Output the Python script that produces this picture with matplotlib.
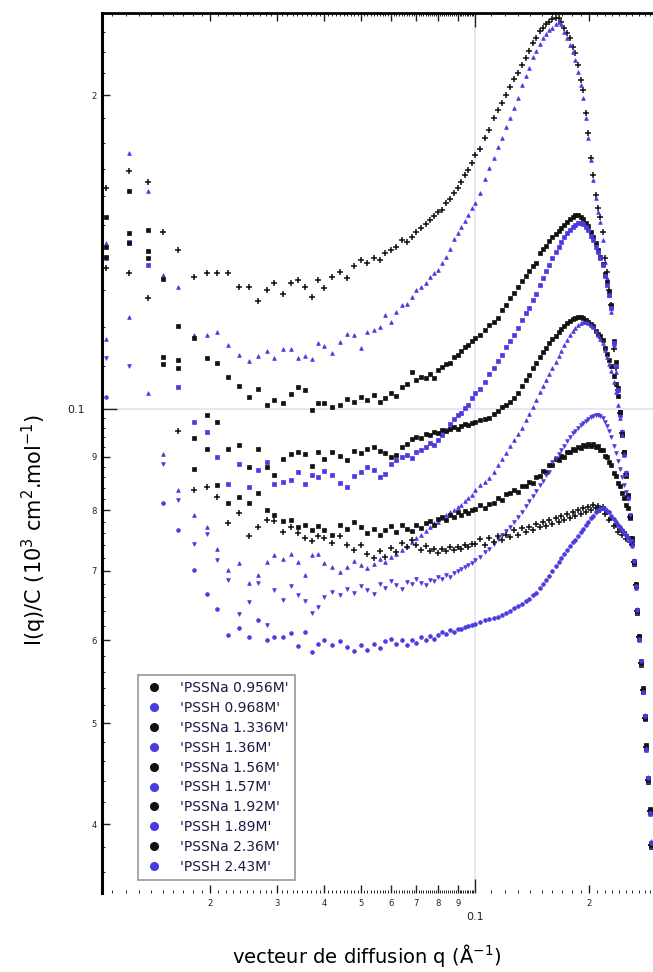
import numpy as np
import matplotlib
matplotlib.use("Agg")
import matplotlib.pyplot as plt
from matplotlib.ticker import FixedLocator, FixedFormatter, NullFormatter
from matplotlib.lines import Line2D

nan = np.nan

# scattering vector q (1/A), shared by all samples
q = [0.0106, 0.0122, 0.0137, 0.0150, 0.0165, 0.0181, 0.0196, 0.0208, 0.0223, 0.0239,
     0.0253, 0.0268, 0.0282, 0.0295, 0.0311, 0.0326, 0.0341, 0.0355, 0.0371, 0.0386,
     0.040, 0.042, 0.044, 0.046, 0.048, 0.050, 0.052, 0.054, 0.056, 0.058,
     0.060, 0.062, 0.064, 0.066, 0.068, 0.070, 0.072, 0.074, 0.076, 0.078,
     0.080, 0.082, 0.084, 0.086, 0.088, 0.090, 0.092, 0.094, 0.096, 0.098,
     0.100, 0.103, 0.106, 0.109, 0.112, 0.115, 0.118, 0.121, 0.124, 0.127,
     0.130, 0.133, 0.136, 0.139, 0.142, 0.145, 0.148, 0.151, 0.154, 0.157,
     0.160, 0.163, 0.166, 0.169, 0.172, 0.175, 0.178, 0.181, 0.184, 0.187,
     0.190, 0.193, 0.196, 0.199, 0.202, 0.205, 0.208, 0.211, 0.214, 0.217,
     0.220, 0.223, 0.226, 0.229, 0.232, 0.235, 0.238, 0.241, 0.244, 0.247,
     0.250, 0.253, 0.256, 0.259, 0.262, 0.265, 0.268, 0.271, 0.274, 0.277,
     0.280, 0.283, 0.286, 0.289, 0.292]

# I(q)/C for each solution
pssna_0956 = [0.163, 0.169, 0.165, 0.148, 0.142, 0.134, 0.135, 0.135, 0.135, 0.131,
              0.131, 0.127, 0.130, 0.132, 0.129, 0.132, 0.133, 0.131, 0.128, 0.133,
              0.1306, 0.1340, 0.1353, 0.1335, 0.1372, 0.1389, 0.1380, 0.1395, 0.1389, 0.1411,
              0.1420, 0.1430, 0.1452, 0.1446, 0.1462, 0.1480, 0.1491, 0.1506, 0.1518, 0.1530,
              0.1544, 0.1552, 0.1575, 0.1590, 0.1610, 0.1628, 0.1652, 0.1675, 0.1695, 0.1720,
              0.1752, 0.1775, 0.1819, 0.1851, 0.1901, 0.1936, 0.1965, 0.2000, 0.2034, 0.2072,
              0.2100, 0.2137, 0.2171, 0.2204, 0.2243, 0.2267, 0.2302, 0.2317, 0.2338, 0.2349,
              0.2366, 0.2371, 0.2371, 0.2349, 0.2317, 0.2292, 0.2267, 0.2223, 0.2195, 0.2137,
              0.2066, 0.2021, 0.1923, 0.1839, 0.1740, 0.1676, 0.1603, 0.1558, 0.1528, 0.1478,
              0.1395, 0.1353, 0.1301, 0.1258, 0.1143, 0.1095, 0.1044, 0.0991, 0.0948, 0.0907,
              0.0866, 0.0825, 0.0788, 0.0750, 0.0713, 0.0678, 0.0640, 0.0604, 0.0571, 0.0538,
              0.0506, 0.0474, 0.0441, 0.0412, 0.0382]
pssh_0968 = [0.1443, 0.1760, 0.1618, 0.1344, 0.1309, 0.1177, 0.1177, 0.1186, 0.1152, 0.1127,
             0.1112, 0.1124, 0.1137, 0.1119, 0.1142, 0.1142, 0.1119, 0.1124, 0.1117, 0.1157,
             0.1149, 0.1132, 0.1160, 0.1181, 0.1177, 0.1144, 0.1186, 0.1191, 0.1200, 0.1230,
             0.1212, 0.1240, 0.1258, 0.1262, 0.1280, 0.1300, 0.1309, 0.1322, 0.1338, 0.1349,
             0.1359, 0.1380, 0.1400, 0.1425, 0.1455, 0.1475, 0.1495, 0.1515, 0.1535, 0.1558,
             0.1575, 0.1610, 0.1661, 0.1702, 0.1740, 0.1782, 0.1819, 0.1863, 0.1901, 0.1944,
             0.1987, 0.2043, 0.2086, 0.2123, 0.2176, 0.2204, 0.2238, 0.2267, 0.2287, 0.2307,
             0.2322, 0.2338, 0.2349, 0.2338, 0.2297, 0.2267, 0.2233, 0.2199, 0.2161, 0.2104,
             0.2043, 0.1987, 0.1901, 0.1819, 0.1732, 0.1657, 0.1593, 0.1544, 0.1511, 0.1452,
             0.1383, 0.1335, 0.1286, 0.1239, 0.1152, 0.1085, 0.1031, 0.0987, 0.0952, 0.0903,
             0.0870, 0.0821, 0.0791, 0.0746, 0.0716, 0.0674, 0.0643, 0.0601, 0.0574, 0.0535,
             0.0509, 0.0471, 0.0444, 0.0409, 0.0385]
pssna_1336 = [0.1528, 0.1618, 0.1485, 0.1332, 0.1201, 0.1169, 0.1120, 0.1107, 0.1073, 0.1052,
              0.1027, 0.1045, 0.1009, 0.1020, 0.1013, 0.1034, 0.1050, 0.1043, 0.0998, 0.1013,
              0.1013, 0.1005, 0.1009, 0.1022, 0.1016, 0.1028, 0.1020, 0.1031, 0.1015, 0.1024,
              0.1036, 0.1030, 0.1050, 0.1058, 0.1085, 0.1066, 0.1074, 0.1070, 0.1080, 0.1071,
              0.1090, 0.1097, 0.1104, 0.1108, 0.1122, 0.1128, 0.1138, 0.1146, 0.1152, 0.1163,
              0.1169, 0.1177, 0.1190, 0.1204, 0.1212, 0.1222, 0.1244, 0.1258, 0.1278, 0.1292,
              0.1309, 0.1326, 0.1341, 0.1356, 0.1371, 0.1380, 0.1411, 0.1423, 0.1435, 0.1449,
              0.1462, 0.1471, 0.1481, 0.1491, 0.1501, 0.1511, 0.1521, 0.1528, 0.1535, 0.1535,
              0.1528, 0.1521, 0.1508, 0.1498, 0.1478, 0.1462, 0.1443, 0.1420, 0.1398, 0.1377,
              0.1347, 0.1324, 0.1295, 0.1258, 0.1162, 0.1109, 0.1047, 0.0993, 0.0945, 0.0910,
              0.0863, 0.0828, 0.0786, 0.0752, 0.0711, 0.0680, 0.0638, 0.0606, 0.0569, 0.0540,
              0.0504, 0.0476, 0.0439, 0.0414, 0.0380]
pssh_136 = [0.1395, 0.1446, 0.1374, nan, 0.1050, 0.0972, 0.0951, 0.0899, 0.0848, 0.0886,
            0.0842, 0.0874, 0.0890, 0.0848, 0.0852, 0.0856, 0.0870, 0.0848, 0.0864, 0.0860,
            0.0872, 0.0864, 0.0850, 0.0842, 0.0862, 0.0870, 0.0880, 0.0874, 0.0860, 0.0866,
            0.0885, 0.0894, 0.0900, 0.0903, 0.0898, 0.0909, 0.0914, 0.0920, 0.0927, 0.0924,
            0.0935, 0.0944, 0.0955, 0.0968, 0.0978, 0.0987, 0.0992, 0.1002, 0.1010, 0.1025,
            0.1036, 0.1045, 0.1061, 0.1080, 0.1095, 0.1112, 0.1127, 0.1146, 0.1162, 0.1177,
            0.1196, 0.1217, 0.1236, 0.1250, 0.1272, 0.1289, 0.1315, 0.1335, 0.1356, 0.1374,
            0.1395, 0.1414, 0.1430, 0.1446, 0.1462, 0.1475, 0.1485, 0.1495, 0.1501, 0.1508,
            0.1508, 0.1504, 0.1495, 0.1485, 0.1465, 0.1452, 0.1430, 0.1414, 0.1395, 0.1374,
            0.1341, 0.1315, 0.1286, 0.1250, 0.1157, 0.1101, 0.1044, 0.0989, 0.0950, 0.0905,
            0.0868, 0.0823, 0.0790, 0.0748, 0.0715, 0.0676, 0.0642, 0.0602, 0.0573, 0.0536,
            0.0508, 0.0472, 0.0443, 0.0410, 0.0384]
pssna_156 = [0.1430, 0.1475, 0.1417, 0.1122, 0.1114, 0.0938, 0.0987, 0.0971, 0.0915, 0.0923,
             0.0880, 0.0915, 0.0880, 0.0864, 0.0895, 0.0905, 0.0909, 0.0905, 0.0882, 0.0909,
             0.0895, 0.0909, 0.0902, 0.0893, 0.0911, 0.0907, 0.0915, 0.0919, 0.0912, 0.0907,
             0.0900, 0.0903, 0.0919, 0.0925, 0.0936, 0.0940, 0.0938, 0.0946, 0.0944, 0.0950,
             0.0948, 0.0954, 0.0952, 0.0958, 0.0961, 0.0957, 0.0964, 0.0968, 0.0966, 0.0970,
             0.0971, 0.0976, 0.0978, 0.0980, 0.0989, 0.0996, 0.1004, 0.1009, 0.1016, 0.1025,
             0.1036, 0.1052, 0.1066, 0.1078, 0.1095, 0.1107, 0.1122, 0.1134, 0.1144, 0.1157,
             0.1167, 0.1175, 0.1186, 0.1194, 0.1202, 0.1209, 0.1215, 0.1220, 0.1222, 0.1225,
             0.1225, 0.1222, 0.1217, 0.1212, 0.1207, 0.1202, 0.1188, 0.1180, 0.1175, 0.1164,
             0.1144, 0.1129, 0.1114, 0.1100, 0.1076, 0.1057, 0.1029, 0.0993, 0.0946, 0.0909,
             0.0864, 0.0826, 0.0789, 0.0749, 0.0714, 0.0677, 0.0641, 0.0603, 0.0572, 0.0537,
             0.0507, 0.0473, 0.0442, 0.0411, 0.0383]
pssh_157 = [0.1167, 0.1225, 0.1036, 0.0905, 0.0837, 0.0792, 0.0771, 0.0734, 0.0701, 0.0712,
            0.0681, 0.0693, 0.0713, 0.0724, 0.0719, 0.0726, 0.0713, 0.0693, 0.0724, 0.0726,
            0.0712, 0.0705, 0.0698, 0.0706, 0.0715, 0.0709, 0.0704, 0.0711, 0.0719, 0.0713,
            0.0722, 0.0727, 0.0733, 0.0739, 0.0745, 0.0752, 0.0757, 0.0764, 0.0770, 0.0777,
            0.0780, 0.0786, 0.0791, 0.0796, 0.0800, 0.0806, 0.0810, 0.0816, 0.0821, 0.0828,
            0.0836, 0.0845, 0.0852, 0.0858, 0.0870, 0.0884, 0.0895, 0.0907, 0.0921, 0.0934,
            0.0946, 0.0959, 0.0976, 0.0989, 0.1004, 0.1020, 0.1038, 0.1052, 0.1066, 0.1080,
            0.1095, 0.1109, 0.1124, 0.1137, 0.1152, 0.1164, 0.1177, 0.1188, 0.1196, 0.1204,
            0.1209, 0.1212, 0.1212, 0.1209, 0.1204, 0.1199, 0.1188, 0.1177, 0.1167, 0.1157,
            0.1139, 0.1122, 0.1104, 0.1087, 0.1061, 0.1038, 0.1009, 0.0980, 0.0944, 0.0906,
            0.0867, 0.0824, 0.0787, 0.0751, 0.0712, 0.0679, 0.0639, 0.0605, 0.0570, 0.0539,
            0.0505, 0.0475, 0.0440, 0.0413, 0.0381]
pssna_192 = [0.1398, 0.1443, 0.1395, 0.1104, 0.1095, 0.0876, 0.0915, 0.0845, 0.0813, 0.0823,
             0.0813, 0.0831, 0.0801, 0.0792, 0.0781, 0.0783, 0.0771, 0.0774, 0.0765, 0.0772,
             0.0765, 0.0758, 0.0774, 0.0768, 0.0779, 0.0770, 0.0760, 0.0768, 0.0757, 0.0765,
             0.0772, 0.0762, 0.0774, 0.0768, 0.0764, 0.0775, 0.0769, 0.0778, 0.0781, 0.0775,
             0.0785, 0.0788, 0.0783, 0.0792, 0.0788, 0.0796, 0.0791, 0.0798, 0.0795, 0.0801,
             0.0802, 0.0809, 0.0803, 0.0811, 0.0813, 0.0822, 0.0818, 0.0829, 0.0831, 0.0836,
             0.0832, 0.0843, 0.0844, 0.0851, 0.0850, 0.0860, 0.0862, 0.0872, 0.0870, 0.0883,
             0.0884, 0.0895, 0.0893, 0.0902, 0.0900, 0.0910, 0.0909, 0.0916, 0.0913, 0.0920,
             0.0917, 0.0924, 0.0921, 0.0926, 0.0922, 0.0926, 0.0919, 0.0922, 0.0913, 0.0914,
             0.0902, 0.0899, 0.0889, 0.0884, 0.0869, 0.0862, 0.0849, 0.0843, 0.0830, 0.0822,
             0.0809, 0.0804, 0.0788, 0.0750, 0.0713, 0.0678, 0.0640, 0.0604, 0.0571, 0.0538,
             0.0506, 0.0474, 0.0441, 0.0412, 0.0382]
pssh_189 = [0.1119, 0.1101, nan, 0.0886, 0.0818, 0.0742, 0.0759, 0.0716, 0.0686, 0.0636,
            0.0653, 0.0681, 0.0621, 0.0671, 0.0656, 0.0677, 0.0663, 0.0655, 0.0637, 0.0646,
            0.0660, 0.0668, 0.0664, 0.0672, 0.0667, 0.0676, 0.0670, 0.0665, 0.0679, 0.0673,
            0.0684, 0.0678, 0.0672, 0.0683, 0.0679, 0.0687, 0.0681, 0.0678, 0.0686, 0.0684,
            0.0690, 0.0687, 0.0693, 0.0691, 0.0697, 0.0699, 0.0703, 0.0705, 0.0709, 0.0712,
            0.0716, 0.0722, 0.0729, 0.0735, 0.0742, 0.0750, 0.0757, 0.0764, 0.0771, 0.0780,
            0.0788, 0.0797, 0.0807, 0.0816, 0.0825, 0.0834, 0.0845, 0.0854, 0.0864, 0.0871,
            0.0890, 0.0897, 0.0905, 0.0913, 0.0921, 0.0931, 0.0940, 0.0948, 0.0952, 0.0959,
            0.0965, 0.0969, 0.0974, 0.0978, 0.0982, 0.0985, 0.0987, 0.0987, 0.0985, 0.0980,
            0.0972, 0.0963, 0.0952, 0.0940, 0.0921, 0.0907, 0.0892, 0.0876, 0.0860, 0.0845,
            0.0833, 0.0820, 0.0792, 0.0748, 0.0715, 0.0676, 0.0642, 0.0602, 0.0573, 0.0536,
            0.0508, 0.0472, 0.0443, 0.0410, 0.0384]
pssna_236 = [0.1366, 0.1350, 0.1278, nan, 0.0953, 0.0836, 0.0842, 0.0823, 0.0778, 0.0795,
             0.0756, 0.0771, 0.0783, 0.0781, 0.0763, 0.0771, 0.0760, 0.0753, 0.0747, 0.0756,
             0.0752, 0.0744, 0.0756, 0.0740, 0.0733, 0.0741, 0.0727, 0.0720, 0.0731, 0.0722,
             0.0736, 0.0730, 0.0744, 0.0738, 0.0749, 0.0741, 0.0733, 0.0739, 0.0731, 0.0734,
             0.0728, 0.0735, 0.0731, 0.0737, 0.0733, 0.0738, 0.0735, 0.0740, 0.0737, 0.0742,
             0.0742, 0.0750, 0.0741, 0.0752, 0.0746, 0.0756, 0.0749, 0.0758, 0.0754, 0.0766,
             0.0758, 0.0769, 0.0762, 0.0771, 0.0765, 0.0776, 0.0770, 0.0779, 0.0772, 0.0783,
             0.0776, 0.0786, 0.0779, 0.0790, 0.0783, 0.0793, 0.0786, 0.0796, 0.0790, 0.0800,
             0.0793, 0.0803, 0.0797, 0.0806, 0.0800, 0.0809, 0.0803, 0.0808, 0.0800, 0.0805,
             0.0794, 0.0796, 0.0783, 0.0787, 0.0772, 0.0775, 0.0763, 0.0768, 0.0757, 0.0762,
             0.0750, 0.0754, 0.0745, 0.0740, 0.0713, 0.0678, 0.0640, 0.0604, 0.0571, 0.0538,
             0.0506, 0.0474, 0.0441, 0.0412, 0.0382]
pssh_243 = [0.1027, nan, nan, 0.0813, 0.0765, 0.0701, 0.0665, 0.0643, 0.0607, 0.0617,
            0.0604, 0.0628, 0.0600, 0.0604, 0.0604, 0.0610, 0.0593, 0.0611, 0.0585, 0.0596,
            0.0600, 0.0594, 0.0599, 0.0591, 0.0586, 0.0594, 0.0588, 0.0596, 0.0590, 0.0599,
            0.0602, 0.0596, 0.0600, 0.0594, 0.0601, 0.0597, 0.0604, 0.0600, 0.0606, 0.0602,
            0.0607, 0.0611, 0.0609, 0.0614, 0.0612, 0.0616, 0.0615, 0.0618, 0.0619, 0.0621,
            0.0622, 0.0625, 0.0628, 0.0629, 0.0631, 0.0632, 0.0635, 0.0638, 0.0641, 0.0644,
            0.0647, 0.0650, 0.0654, 0.0658, 0.0663, 0.0667, 0.0674, 0.0680, 0.0686, 0.0692,
            0.0700, 0.0707, 0.0713, 0.0720, 0.0726, 0.0732, 0.0739, 0.0746, 0.0749, 0.0756,
            0.0763, 0.0767, 0.0774, 0.0780, 0.0787, 0.0790, 0.0797, 0.0801, 0.0802, 0.0804,
            0.0802, 0.0799, 0.0796, 0.0790, 0.0785, 0.0780, 0.0774, 0.0771, 0.0766, 0.0761,
            0.0758, 0.0752, 0.0747, 0.0739, 0.0715, 0.0676, 0.0642, 0.0602, 0.0573, 0.0536,
            0.0508, 0.0472, 0.0443, 0.0410, 0.0384]

labels = ["'PSSNa 0.956M'", "'PSSH 0.968M'", "'PSSNa 1.336M'", "'PSSH 1.36M'",
          "'PSSNa 1.56M'", "'PSSH 1.57M'", "'PSSNa 1.92M'", "'PSSH 1.89M'",
          "'PSSNa 2.36M'", "'PSSH 2.43M'"]
series = [pssna_0956, pssh_0968, pssna_1336, pssh_136, pssna_156,
          pssh_157, pssna_192, pssh_189, pssna_236, pssh_243]

BLACK = "#111111"
BLUE = "#4a3be0"
colors = [BLACK, BLUE] * 5
markers = ["+", "^", "s", "s", "s", "^", "s", "v", "+", "o"]

fig = plt.figure(figsize=(6.53, 9.72), dpi=100)
ax = fig.add_axes([0.1562, 0.0813, 0.8438, 0.9054])

for ys, c, m in zip(series, colors, markers):
    ms, mew = (3.8, 1.1) if m == "+" else (2.7, 0.5)
    ax.plot(q, ys, linestyle="none", marker=m, ms=ms, mew=mew,
            color=c, mec=c, zorder=3)

ax.set_xscale("log")
ax.set_yscale("log")
ax.set_xlim(0.01037, 0.2947)
ax.set_ylim(0.03436, 0.2398)

# faint grid at the decade
ax.axvline(0.1, color="#e2e2f6", lw=1.2, zorder=0)
ax.axhline(0.1, color="#e2e2f6", lw=1.2, zorder=0)

# labelled ticks at the integer multiples, tiny sub-ticks in between
xmaj = [0.02, 0.03, 0.04, 0.05, 0.06, 0.07, 0.08, 0.09, 0.1, 0.2]
xlab = ["2", "3", "4", "5", "6", "7", "8", "9", "0.1", "2"]
ax.xaxis.set_major_locator(FixedLocator(xmaj))
ax.xaxis.set_major_formatter(FixedFormatter(xlab))
xsub = [round(m * d, 5) for d in (0.01, 0.1) for m in np.arange(1.1, 10, 0.1)
        if round(m * 10) % 10 != 0]
ax.xaxis.set_minor_locator(FixedLocator(xsub))
ax.xaxis.set_minor_formatter(NullFormatter())

ymaj = [0.04, 0.05, 0.06, 0.07, 0.08, 0.09, 0.1, 0.2]
ylab = ["4", "5", "6", "7", "8", "9", "0.1", "2"]
ax.yaxis.set_major_locator(FixedLocator(ymaj))
ax.yaxis.set_major_formatter(FixedFormatter(ylab))
ysub = [round(m * 0.01, 5) for m in np.arange(3.2, 10, 0.2) if round(m * 10) % 10 != 0] + \
       [round(m * 0.1, 5) for m in np.arange(1.1, 2.5, 0.1) if round(m * 10) % 10 != 0]
ax.yaxis.set_minor_locator(FixedLocator(ysub))
ax.yaxis.set_minor_formatter(NullFormatter())

ax.tick_params(which="both", direction="in", top=True, bottom=True,
               left=True, right=False, colors="#222222")
ax.tick_params(which="major", length=6, width=1.0, labelsize=6, pad=4)
ax.tick_params(which="minor", length=2.5, width=0.7)

for t, v in zip(ax.xaxis.get_major_ticks(), xmaj):
    if v == 0.1:
        t.label1.set_fontsize(8)
        t.set_pad(14)
        t.tick1line.set_markersize(10)
        t.tick2line.set_markersize(10)
for t, v in zip(ax.yaxis.get_major_ticks(), ymaj):
    if v == 0.1:
        t.label1.set_fontsize(8)
        t.set_pad(12)
        t.tick1line.set_markersize(11)
        t.tick1line.set_color("#888888")

ax.spines["right"].set_visible(False)
ax.spines["bottom"].set_visible(False)
ax.spines["left"].set_linewidth(2.2)
ax.spines["top"].set_linewidth(2.0)

fig.text(367 / 653, 1 - 955 / 972, "vecteur de diffusion q (Å$^{-1}$)",
         ha="center", va="center", fontsize=14)
fig.text(0.052, 1 - 530 / 972, "I(q)/C (10$^{3}$ cm$^{2}$.mol$^{-1}$)",
         rotation=90, ha="center", va="center", fontsize=15)

handles = [Line2D([], [], linestyle="none", marker="o", ms=5.5, color=c, mec=c)
           for c in colors]
leg = ax.legend(handles, labels, loc="lower left", bbox_to_anchor=(0.065, 0.0148),
                fontsize=10, frameon=True, fancybox=False, borderpad=0.45,
                labelspacing=0.42, handlelength=1.5, handletextpad=1.1,
                borderaxespad=0.0)
leg.get_frame().set_edgecolor("#888888")
leg.get_frame().set_linewidth(1.3)
for txt in leg.get_texts():
    txt.set_color("#1a1a40")

fig.savefig("out.png", dpi=100)
